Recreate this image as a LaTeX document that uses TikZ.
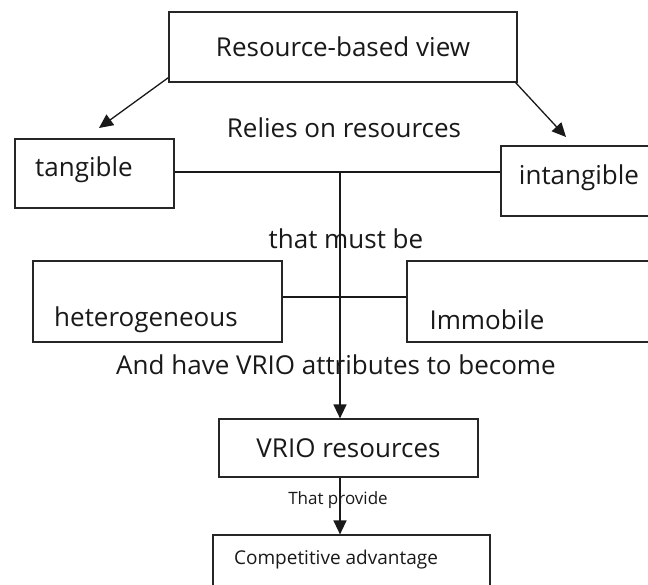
\documentclass[tikz,border=0pt]{standalone}
\usepackage{fontspec}
\setmainfont{Open Sans}
\usetikzlibrary{arrows.meta}
\begin{document}
\begin{tikzpicture}[x=1pt,y=-1pt,
  box/.style 2 args={draw=black!85, line width=1.2pt, minimum width=#1, minimum height=#2, inner sep=0pt},
  big/.style={font=\fontsize{26}{30}\selectfont, text=black!90, inner sep=0pt},
  small/.style={font=\fontsize{19}{22}\selectfont, text=black!90, inner sep=0pt},
  tiny/.style={font=\fontsize{17}{20}\selectfont, text=black!90, inner sep=0pt},
  link/.style={draw=black!90, line width=1.3pt},
  arr/.style={link, -{Triangle[length=14pt,width=13pt]}}]
\path[use as bounding box] (0,0) rectangle (648,585);
\clip (0,0) rectangle (648,585);
\fill[white] (0,0) rectangle (648,585);

% boxes
\node[box={348}{70}, big] (rbv) at (343,47) {Resource-based view};
\node[box={159}{69}] (tan) at (94.5,173.5) {};
\node[box={219}{70}] (int) at (610.5,181) {};
\node[box={249}{81}] (het) at (157.5,301.5) {};
\node[box={313}{81}] (imm) at (563.5,301.5) {};
\node[box={259}{58}, big] (vrio) at (348.5,448) {VRIO resources};
\node[box={277}{105}] (comp) at (351.5,587.5) {};

% texts inside boxes
\node[big] (tant) at (84,170) {tangible};
\node[big] (intt) at (579,178) {intangible};
\node[big] (hett) at (146,320) {heterogeneous};
\node[big] (immt) at (487,320) {Immobile};
\node[small] (compt) at (336,560) {Competitive advantage};

% free labels
\node[big] (relies) at (344,128) {Relies on resources};
\node[big] (must) at (346,239) {that must be};
\node[big] (have) at (336,365) {And have VRIO attributes to become};
\node[tiny] (provide) at (338,500) {That provide};

% connectors
\coordinate (tl) at (99,128);
\coordinate (tr) at (566,137);
\coordinate (j1) at (340,172);
\coordinate (j2) at (340,297);
\draw[arr] ([yshift=5pt]rbv.south west) -- (tl);
\draw[arr] ([xshift=-2pt]rbv.south east) -- (tr);
\draw[link] (tan.east |- j1) -- (int.west |- j1);
\draw[arr] (j1) -- (j1 |- vrio.north);
\draw[link] (het.east |- j2) -- (imm.west |- j2);
\draw[arr] (vrio.south -| j1) -- (comp.north -| j1);
\end{tikzpicture}
\end{document}
